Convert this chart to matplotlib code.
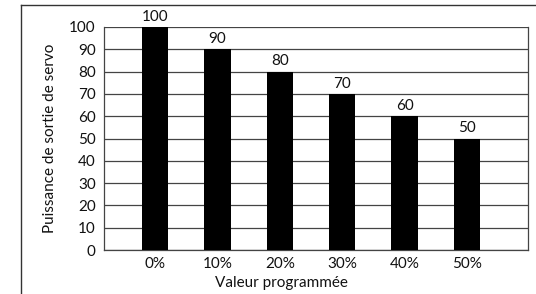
import matplotlib
matplotlib.use("Agg")
import matplotlib.pyplot as plt
from matplotlib.lines import Line2D

categories = ["0%", "10%", "20%", "30%", "40%", "50%"]
values = [100, 90, 80, 70, 60, 50]
yticks = [0, 10, 20, 30, 40, 50, 60, 70, 80, 90, 100]

plt.rcParams['font.family'] = ['Lato', 'DejaVu Sans']

W, H = 536, 294
fig = plt.figure(figsize=(W/100, H/100), dpi=100)
ax = fig.add_axes([104/W, 1-250/H, (528-104)/W, (250-27)/H])

x = list(range(len(categories)))
ax.bar(x, values, width=0.42, color='black', zorder=3)
for xi, v in zip(x, values):
    ax.text(xi, v + 1.5, str(v), ha='center', va='bottom', fontsize=11, color='#111111')

ax.set_xlim(-0.82, 5.98)
ax.set_ylim(0, 100)
ax.set_yticks(yticks)
ax.set_xticks(x)
ax.set_xticklabels(categories)
ax.tick_params(length=0, labelsize=11, colors='#111111')
ax.tick_params(axis='y', pad=6)
ax.tick_params(axis='x', pad=5)
ax.yaxis.grid(True, color='#444444', linewidth=0.9, zorder=0)
for s in ax.spines.values():
    s.set_color('#444444')
    s.set_linewidth(0.9)
ax.spines['top'].set_visible(False)

ax.set_xlabel("Valeur programmée", fontsize=11, color='#111111', va='center')
ax.xaxis.set_label_coords((281-104)/424, -(283-250)/223)
ax.set_ylabel("Puissance de sortie de servo", fontsize=11, labelpad=9, color='#111111')

# outer frame lines
fig.add_artist(Line2D([21/W, 21/W], [0, 1-5/H], transform=fig.transFigure, color='#333333', linewidth=1.0))
fig.add_artist(Line2D([21/W, 1], [1-5/H, 1-5/H], transform=fig.transFigure, color='#333333', linewidth=1.0))

fig.savefig("out.png", dpi=100)
